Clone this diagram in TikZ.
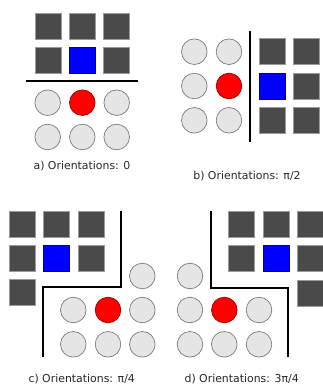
\documentclass[tikz,border=0pt]{standalone}
\usepackage{fontspec}
\setmainfont{DejaVu Sans}
\definecolor{tile}{HTML}{4A4A4A}
\definecolor{tileedge}{HTML}{9A9A9A}
\definecolor{disc}{HTML}{E5E5E5}
\definecolor{discedge}{HTML}{7A7A7A}
\tikzset{
  tilebox/.style={rectangle, minimum size=26pt, inner sep=0pt, fill=tile, draw=tileedge, line width=0.5pt},
  bluebox/.style={tilebox, fill=blue, draw=blue!60!black},
  discnode/.style={circle, minimum size=25.6pt, inner sep=0pt, fill=disc, draw=discedge, line width=0.7pt},
  reddisc/.style={discnode, fill=red, draw=red!60!black},
  wall/.style={draw=black, line width=1.8pt},
  caption/.style={font=\fontsize{10.9pt}{13pt}\selectfont, text=black!85, inner sep=0pt}
}
\begin{document}
\begin{tikzpicture}[x=1pt, y=-1pt]
\useasboundingbox (0,0) rectangle (323,388);

% ---- a) orientation 0 ----
\foreach \c/\x in {1/48.3, 2/82.5, 3/116.7}{
  \node[tilebox] (a-t1-\c) at (\x,26) {};
}
\node[tilebox] (a-t2-1) at (48.3,60.3) {};
\node[bluebox] (a-t2-2) at (82.5,60.3) {};
\node[tilebox] (a-t2-3) at (116.7,60.3) {};
\node[discnode] (a-d1-1) at (47.7,102.7) {};
\node[reddisc]  (a-d1-2) at (82.3,102.7) {};
\node[discnode] (a-d1-3) at (116.7,102.7) {};
\foreach \c/\x in {1/47.7, 2/82.3, 3/116.7}{
  \node[discnode] (a-d2-\c) at (\x,137) {};
}
\draw[wall] (26.3,81) -- (138.3,81);
\node[caption] (a-cap) at (82,166) {a) Orientations: 0};

% ---- b) orientation pi/2 ----
\foreach \r/\y in {1/51.7, 2/86, 3/120.3}{
  \node[discnode] (b-d\r-1) at (194.3,\y) {};
  \node[tilebox] (b-t\r-2) at (306.3,\y) {};
}
\node[discnode] (b-d1-2) at (229,51.7) {};
\node[reddisc]  (b-d2-2) at (229,86) {};
\node[discnode] (b-d3-2) at (229,120.3) {};
\node[tilebox] (b-t1-1) at (272,51.7) {};
\node[bluebox] (b-t2-1) at (272,86) {};
\node[tilebox] (b-t3-1) at (272,120.3) {};
\draw[wall] (250,30.7) -- (250,141.7);
\node[caption] (b-cap) at (247,176) {b) Orientations: π/2};

% ---- c) orientation pi/4 ----
\foreach \c/\x in {1/22, 2/56.7, 3/91.3}{
  \node[tilebox] (c-t1-\c) at (\x,224) {};
}
\node[tilebox] (c-t2-1) at (22,258) {};
\node[bluebox] (c-t2-2) at (56.7,258) {};
\node[tilebox] (c-t2-3) at (91.3,258) {};
\node[tilebox] (c-t3-1) at (22,292.7) {};
\node[discnode] (c-d0-3) at (142.3,276) {};
\node[discnode] (c-d1-1) at (73.3,310) {};
\node[reddisc]  (c-d1-2) at (108,310) {};
\node[discnode] (c-d1-3) at (142.3,310) {};
\foreach \c/\x in {1/73.3, 2/108, 3/142.3}{
  \node[discnode] (c-d2-\c) at (\x,344.3) {};
}
\draw[wall] (121,211) -- (121,287) -- (43.3,287) -- (43.3,357.3);
\node[caption] (c-cap) at (81.7,379.3) {c) Orientations: π/4};

% ---- d) orientation 3pi/4 ----
\foreach \c/\x in {1/241.7, 2/276.3, 3/310.7}{
  \node[tilebox] (d-t1-\c) at (\x,224.3) {};
}
\node[tilebox] (d-t2-1) at (241.7,258) {};
\node[bluebox] (d-t2-2) at (276.3,258) {};
\node[tilebox] (d-t2-3) at (310.7,258) {};
\node[tilebox] (d-t3-3) at (310.7,293) {};
\node[discnode] (d-d0-1) at (190,276) {};
\node[discnode] (d-d1-1) at (190,310) {};
\node[reddisc]  (d-d1-2) at (224.3,310) {};
\node[discnode] (d-d1-3) at (259,310) {};
\foreach \c/\x in {1/190, 2/224.3, 3/259}{
  \node[discnode] (d-d2-\c) at (\x,344.3) {};
}
\draw[wall] (211,211) -- (211,287.7) -- (288.3,287.7) -- (288.3,357.3);
\node[caption] (d-cap) at (241.7,379.3) {d) Orientations: 3π/4};
\end{tikzpicture}
\end{document}
